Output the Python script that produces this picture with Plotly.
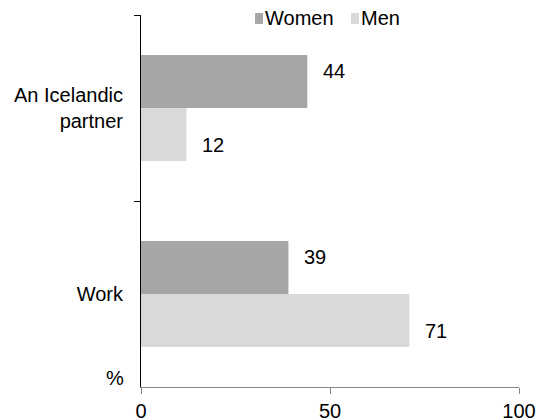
import plotly.graph_objects as go

categories = ["An Icelandic<br>partner", "Work"]
women = [44, 39]
men = [12, 71]
x_ticks = [0, 50, 100]
series_names = ["Women", "Men"]
series_colors = ["#a6a6a6", "#d9d9d9"]

FONT = "Liberation Sans, Arial, sans-serif"
FS = 20

fig = go.Figure()
for name, vals, col in zip(series_names, (women, men), series_colors):
    fig.add_trace(go.Bar(y=categories, x=vals, name=name, orientation="h",
                         marker=dict(color=col, line=dict(width=0)),
                         showlegend=False))

annotations = []
for vals, off in ((women, -0.2), (men, 0.2)):
    for i, v in enumerate(vals):
        annotations.append(dict(x=v, y=i + off, xref="x", yref="y", text=str(v),
                                showarrow=False, xanchor="left", xshift=14,
                                font=dict(size=FS, color="#000")))
annotations.append(dict(x=0, y=0, xref="paper", yref="paper", text="%",
                        showarrow=False, xanchor="right", yanchor="bottom",
                        xshift=-15, yshift=-4, font=dict(size=FS, color="#000")))

# custom legend (square + label), positioned in paper coordinates
legend_items = [(0.3016, 0.3280), (0.5556, 0.5820)]
shapes = []
for (sq_x, txt_x), name, col in zip(legend_items, series_names, series_colors):
    shapes.append(dict(type="rect", xref="paper", yref="paper",
                       x0=sq_x, x1=sq_x + 0.0212, y0=0.976, y1=1.0055,
                       fillcolor=col, line=dict(width=0)))
    annotations.append(dict(x=txt_x, y=0.992, xref="paper", yref="paper", text=name,
                            showarrow=False, xanchor="left", yanchor="middle",
                            xshift=-2, font=dict(size=FS, color="#000")))

fig.update_layout(
    width=542, height=420,
    margin=dict(l=141, r=23, t=15, b=33, autoexpand=False),
    paper_bgcolor="white", plot_bgcolor="white",
    font=dict(family=FONT, size=FS, color="#000"),
    barmode="group", bargap=0.43, bargroupgap=0,
    showlegend=False,
    annotations=annotations,
    shapes=shapes,
)
fig.update_xaxes(range=[0, 100], tickvals=x_ticks, ticks="outside", ticklen=6,
                 tickcolor="#868686", showline=True, linecolor="#868686", linewidth=1,
                 showgrid=False, zeroline=False, automargin=False,
                 tickfont=dict(size=FS, color="#000"))
fig.update_yaxes(autorange="reversed", type="category", tickson="boundaries",
                 ticks="outside", ticklen=6, tickcolor="#000", showline=True,
                 linecolor="#000", linewidth=1, showgrid=False, automargin=False,
                 ticklabelstandoff=13,
                 tickfont=dict(size=FS, color="#000"))

fig.write_html("out.html", config={"displayModeBar": False},
               post_script="document.body.style.margin='0';document.body.style.overflow='hidden';")
